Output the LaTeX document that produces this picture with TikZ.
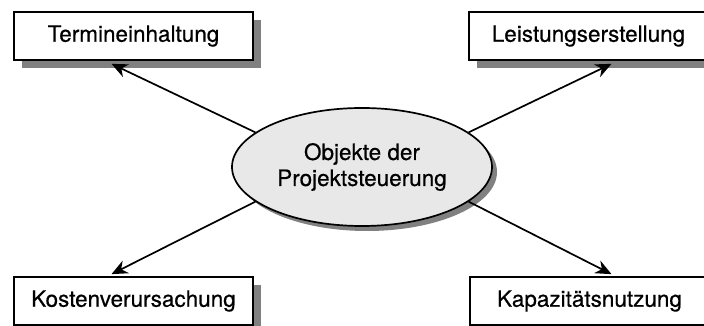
\documentclass[tikz,border=0pt]{standalone}
\usepackage{fontspec}
\setsansfont{TeX Gyre Heros}[FakeBold=0.5]
\usetikzlibrary{arrows.meta,shadows,shapes.geometric}

\begin{document}
\begin{tikzpicture}[x=1pt, y=1pt, >={Stealth[length=16pt,width=14pt]}, line width=1.7pt,
  font=\sffamily\fontsize{22.5}{26}\selectfont,
  ziel/.style={draw, fill=white, minimum width=239pt, minimum height=48pt, inner sep=0pt,
    drop shadow={shadow xshift=8pt, shadow yshift=-8pt, fill=black!50, opacity=1}},
  objekt/.style={draw, ellipse, fill=black!9, minimum width=260pt, minimum height=118pt, inner sep=0pt, align=center,
    drop shadow={shadow xshift=5pt, shadow yshift=-5pt, fill=black!50, opacity=1}}]
  \path[use as bounding box, clip] (0,0) rectangle (704,326);
  \node[objekt](obj) at (362,159){Objekte der\\Projektsteuerung};
  \node[ziel](term) at (133.5,290){Termineinhaltung};
  \node[ziel](leist) at (588.5,290){Leistungserstellung};
  \node[ziel](kost) at (133.5,25){Kostenverursachung};
  \node[ziel](kapa) at (589.5,25){Kapazitätsnutzung};
  \draw[->](obj.162)--([xshift=-22pt,yshift=-3pt]term.south);
  \draw[->](obj.18)--([xshift=23pt,yshift=-3pt]leist.south);
  \draw[->](obj.198)--([xshift=-22pt,yshift=2pt]kost.north);
  \draw[->](obj.-18)--([xshift=22pt,yshift=2pt]kapa.north);
\end{tikzpicture}
\end{document}
